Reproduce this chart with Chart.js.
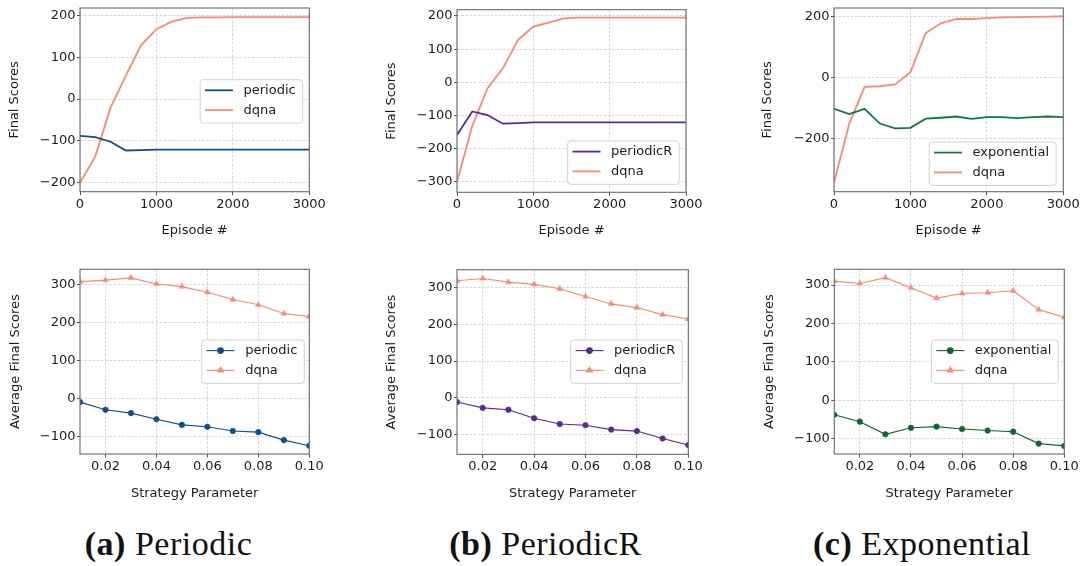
<!DOCTYPE html>
<html><head><meta charset="utf-8">
<script src="https://cdn.jsdelivr.net/npm/chart.js@4.4.1/dist/chart.umd.min.js"></script>
<style>
html,body{margin:0;padding:0;background:#fff;}
body{width:1084px;height:566px;position:relative;overflow:hidden;}
canvas.pnl{position:absolute;}
.cap{position:absolute;font-family:"Liberation Serif","DejaVu Serif",serif;font-size:34px;line-height:1;letter-spacing:0.5px;color:#111;white-space:nowrap;transform:translateX(-50%);}
.cap b{font-weight:bold;}
</style></head>
<body>
<div class="cap" style="left:168.5px;top:526.5px"><b>(a)</b> Periodic</div>
<div class="cap" style="left:545.5px;top:526.5px"><b>(b)</b> PeriodicR</div>
<div class="cap" style="left:922px;top:526.5px"><b>(c)</b> Exponential</div>
<script>
// ---------- data ----------
const episodes = [0,200,400,600,800,1000,1200,1400,1600,1800,2000,2200,2400,2600,2800,3000];
const periodicTop    = [-88,-91,-102,-123,-122,-121,-121,-121,-121,-121,-121,-121,-121,-121,-121,-121];
const dqnaTopA       = [-200,-137,-20,56,129,167,185,194,195,195,196,196,196,196,196,196];
const periodicRTop   = [-159,-88,-99,-125,-123,-121,-121,-121,-121,-121,-121,-121,-121,-121,-121,-121];
const dqnaTopB       = [-300,-132,-18,42,128,168,180,193,195,195,195,195,195,195,195,195];
const exponentialTop = [-103,-120,-103,-151,-167,-165,-135,-132,-128,-136,-130,-130,-133,-130,-128,-130];
const dqnaTopC       = [-345,-151,-31,-29,-23,17,145,177,191,191,194,196,197,198,199,200];

const strategyParams = [0.01,0.02,0.03,0.04,0.05,0.06,0.07,0.08,0.09,0.10];
const periodicBot    = [-10,-30,-39,-55,-70,-75,-86,-89,-110,-125];
const dqnaBotA       = [307,311,317,301,294,279,260,246,223,215];
const periodicRBot   = [-11,-27,-32,-55,-71,-74,-86,-90,-110,-128];
const dqnaBotB       = [318,324,314,308,296,275,255,245,226,214];
const exponentialBot = [-37,-55,-88,-71,-68,-74,-78,-81,-112,-118];
const dqnaBotC       = [310,304,319,293,266,278,280,285,236,216];

const topXTicks  = [0,1000,2000,3000];
const botXTicks  = [0.02,0.04,0.06,0.08,0.10];
const yTicksTopA = [-200,-100,0,100,200];
const yTicksTopB = [-300,-200,-100,0,100,200];
const yTicksTopC = [-200,0,200];
const yTicksBot  = [-100,0,100,200,300];

// ---------- styles ----------
const COL = {blue:'#0f4c92', salmon:'#fc8b6e', purple:'#572a91', green:'#17763a', greenDark:'#0b6830'};
const FONT = '"DejaVu Sans", sans-serif';
const TEXT = '#1c1c1c';

const pts = (xs, ys) => xs.map((x,i)=>({x:x, y:ys[i]}));

const panels = [
 {left:0,   top:0,   plot:[80,309.3,7.3,191.7], xr:[0,3000], yr:[-221.4,217.6], xt:topXTicks, yt:yTicksTopA, xTitle:'Episode #', xTitlePad:11.2, yTitle:'Final Scores', yTitlePad:7.2, bottomRow:false,
  series:[['periodic',pts(episodes,periodicTop),COL.blue,null],['dqna',pts(episodes,dqnaTopA),COL.salmon,null]], legend:{right:6.6, top:71.7}},
 {left:377, top:0,   plot:[457,686,9.7,192.3], xr:[0,3000], yr:[-332,219], xt:topXTicks, yt:yTicksTopB, xTitle:'Episode #', xTitlePad:11.2, yTitle:'Final Scores', yTitlePad:6.9, bottomRow:false,
  series:[['periodicR',pts(episodes,periodicRTop),COL.purple,null],['dqna',pts(episodes,dqnaTopB),COL.salmon,null]], legend:{right:6.7, bottom:8}},
 {left:754, top:0,   plot:[834,1063.3,7.3,191.7], xr:[0,3000], yr:[-374,227], xt:topXTicks, yt:yTicksTopC, xTitle:'Episode #', xTitlePad:11.2, yTitle:'Final Scores', yTitlePad:6.2, bottomRow:false,
  series:[['exponential',pts(episodes,exponentialTop),COL.green,null],['dqna',pts(episodes,dqnaTopC),COL.salmon,null]], legend:{right:7.3, bottom:6.4}},
 {left:0,   top:260, plot:[80,309.3,269.3,454], xr:[0.01,0.10], yr:[-146.6,339.5], xt:botXTicks, yt:yTicksBot, xTitle:'Strategy Parameter', xTitlePad:8.9, yTitle:'Average Final Scores', yTitlePad:7.9, bottomRow:true,
  series:[['periodic',pts(strategyParams,periodicBot),COL.blue,'circle'],['dqna',pts(strategyParams,dqnaBotA),COL.salmon,'triangle']], legend:{right:5, top:70.7}},
 {left:377, top:260, plot:[457,688.3,269.7,454.3], xr:[0.01,0.10], yr:[-153,347.8], xt:botXTicks, yt:yTicksBot, xTitle:'Strategy Parameter', xTitlePad:8.9, yTitle:'Average Final Scores', yTitlePad:6.9, bottomRow:true,
  series:[['periodicR',pts(strategyParams,periodicRBot),COL.purple,'circle'],['dqna',pts(strategyParams,dqnaBotB),COL.salmon,'triangle']], legend:{right:6, top:70.3}},
 {left:754, top:260, plot:[834.3,1064.3,269.3,454], xr:[0.01,0.10], yr:[-139,340.8], xt:botXTicks, yt:yTicksBot, xTitle:'Strategy Parameter', xTitlePad:8.9, yTitle:'Average Final Scores', yTitlePad:7.2, bottomRow:true,
  series:[['exponential',pts(strategyParams,exponentialBot),COL.greenDark,'circle'],['dqna',pts(strategyParams,dqnaBotC),COL.salmon,'triangle']], legend:{right:6, top:70.7}},
];

const fmtNum = v => v < 0 ? '\u2212' + Math.abs(v) : String(v);

// full frame (spines)
const framePlugin = {
  id:'frame',
  afterDraw(chart){
    const {ctx, chartArea:a} = chart;
    ctx.save();
    ctx.strokeStyle = '#6a6a6a';
    ctx.lineWidth = 1.1;
    ctx.strokeRect(a.left, a.top, a.right-a.left, a.bottom-a.top);
    ctx.restore();
  }
};

// matplotlib-like legend inside the axes
const insideLegend = {
  id:'insideLegend',
  afterDraw(chart, args, opts){
    const ctx = chart.ctx, a = chart.chartArea;
    const ds = chart.data.datasets;
    ctx.save();
    ctx.font = '13px ' + FONT;
    const tw = Math.max(...ds.map(d=>ctx.measureText(d.label).width));
    const w = 43.4 + tw + 7, h = 43.3;
    const x = a.right - opts.right - w;
    const y = (opts.top != null) ? a.top + opts.top : a.bottom - opts.bottom - h;
    const r = 3;
    ctx.beginPath();
    ctx.moveTo(x+r,y); ctx.lineTo(x+w-r,y); ctx.quadraticCurveTo(x+w,y,x+w,y+r);
    ctx.lineTo(x+w,y+h-r); ctx.quadraticCurveTo(x+w,y+h,x+w-r,y+h);
    ctx.lineTo(x+r,y+h); ctx.quadraticCurveTo(x,y+h,x,y+h-r);
    ctx.lineTo(x,y+r); ctx.quadraticCurveTo(x,y,x+r,y);
    ctx.closePath();
    ctx.fillStyle = 'rgba(255,255,255,0.85)';
    ctx.fill();
    ctx.strokeStyle = '#d2d2d2';
    ctx.lineWidth = 1;
    ctx.stroke();
    ds.forEach((d,i)=>{
      const ey = y + 10.6 + i*19.8;
      ctx.strokeStyle = d.borderColor;
      ctx.lineWidth = d.borderWidth;
      ctx.beginPath(); ctx.moveTo(x+4.8, ey); ctx.lineTo(x+32.8, ey); ctx.stroke();
      if (d.pointRadius > 0) {
        ctx.fillStyle = d.pointBackgroundColor;
        ctx.strokeStyle = d.pointBorderColor;
        Chart.helpers.drawPoint(ctx, {pointStyle:d.pointStyle, rotation:0, radius:d.pointRadius, borderWidth:d.pointBorderWidth}, x+18.8, ey);
      }
      ctx.fillStyle = TEXT;
      ctx.textBaseline = 'middle';
      ctx.textAlign = 'left';
      ctx.fillText(d.label, x+43.4, ey+0.5);
    });
    ctx.restore();
  }
};

const CW = 330, CH = 250, YW = 80;

panels.forEach((p, idx) => {
  const cv = document.createElement('canvas');
  cv.className = 'pnl';
  cv.width = CW; cv.height = CH;
  cv.style.left = p.left + 'px'; cv.style.top = p.top + 'px';
  cv.style.width = CW + 'px'; cv.style.height = CH + 'px';
  document.body.appendChild(cv);

  const [pl, pr, pt, pb] = p.plot;
  const relLeft = pl - p.left, relRight = pr - p.left, relTop = pt - p.top, relBottom = pb - p.top;
  const padLeft = relLeft - YW;
  const padRight = CW - relRight;
  const xAxisH = CH - relBottom;

  const datasets = p.series.map(([label, data, color, marker]) => ({
    label, data,
    borderColor: color,
    backgroundColor: color,
    borderWidth: p.bottomRow ? 1.1 : 1.8,
    pointRadius: marker ? (marker === 'triangle' ? 3.3 : 2.8) : 0,
    pointStyle: marker || 'circle',
    pointBackgroundColor: color,
    pointBorderColor: color,
    pointBorderWidth: 0.5,
    pointHoverRadius: 0,
    tension: 0,
    clip: 0,
    fill: false
  }));

  new Chart(cv, {
    type:'line',
    data:{datasets},
    options:{
      responsive:false, animation:false, devicePixelRatio:1,
      events:[],
      layout:{padding:{left:padLeft, right:padRight, top:relTop, bottom:0}},
      plugins:{legend:{display:false}, tooltip:{enabled:false}, insideLegend:p.legend},
      scales:{
        x:{
          type:'linear', min:p.xr[0], max:p.xr[1],
          afterBuildTicks: s => { s.ticks = p.xt.map(v=>({value:v})); },
          afterFit: s => { s.height = xAxisH; },
          ticks:{
            color:TEXT, font:{family:FONT, size:13, lineHeight:1.2}, padding:1.2, maxRotation:0, autoSkip:false,
            callback: v => p.bottomRow ? Number(v).toFixed(2) : fmtNum(v)
          },
          grid:{color:'#cdcdcd', lineWidth:0.8, tickLength:3.5, tickColor:'#555', tickWidth:1, tickBorderDash:[]},
          border:{display:false, dash:[2.6,1.6]},
          title:{display:true, text:p.xTitle, color:TEXT, font:{family:FONT, size:13, lineHeight:1.2}, padding:{top:0, bottom:p.xTitlePad}}
        },
        y:{
          type:'linear', min:p.yr[0], max:p.yr[1],
          afterBuildTicks: s => { s.ticks = p.yt.map(v=>({value:v})); },
          afterFit: s => { s.width = YW; },
          ticks:{color:TEXT, font:{family:FONT, size:13, lineHeight:1.0}, padding:1.5, autoSkip:false, callback: v => fmtNum(v)},
          grid:{color:'#cdcdcd', lineWidth:0.8, tickLength:3, tickColor:'#555', tickWidth:1, tickBorderDash:[]},
          border:{display:false, dash:[2.6,1.6]},
          title:{display:true, text:p.yTitle, color:TEXT, font:{family:FONT, size:13, lineHeight:1.2}, padding:{top:p.yTitlePad, bottom:0}}
        }
      }
    },
    plugins:[framePlugin, insideLegend]
  });
});
</script>
</body></html>
